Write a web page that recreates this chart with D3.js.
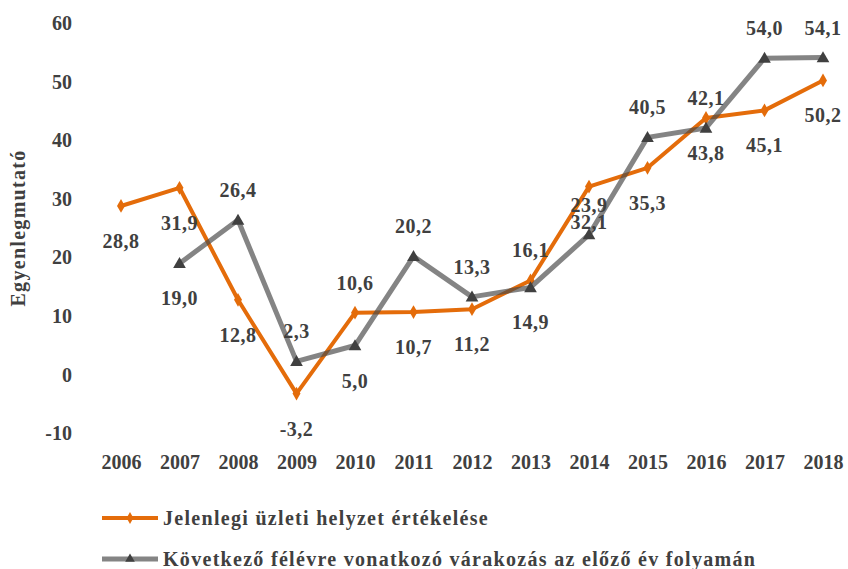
<!DOCTYPE html>
<html>
<head>
<meta charset="utf-8">
<script src="https://cdn.jsdelivr.net/npm/d3@7"></script>
<style>
	body { margin: 0; background: #fff; }
	text { font-family: "Liberation Serif", "DejaVu Serif", serif; font-weight: bold; fill: #404040; }
</style>
</head>
<body>
<svg id="vis" width="848" height="569"></svg>
<script>
	// Years on the x axis
	const years = ["2006", "2007", "2008", "2009", "2010", "2011", "2012", "2013", "2014", "2015", "2016", "2017", "2018"];

	// Current business situation (orange)
	const jelenlegi = [28.8, 31.9, 12.8, -3.2, 10.6, 10.7, 11.2, 16.1, 32.1, 35.3, 43.8, 45.1, 50.2];
	// Expectation for the next half year (grey), no value for 2006
	const kovetkezo = [null, 19.0, 26.4, 2.3, 5.0, 20.2, 13.3, 14.9, 23.9, 40.5, 42.1, 54.0, 54.1];

	// where each data label sits relative to its point
	const jelenlegiLabelPos = ["below", "below", "below", "below", "above", "below", "below", "above", "below", "below", "below", "below", "below"];
	const kovetkezoLabelPos = [null, "below", "above", "above", "below", "above", "above", "below", "above", "above", "above", "above", "above"];

	const yTicks = [-10, 0, 10, 20, 30, 40, 50, 60];

	const legendNames = ["Jelenlegi üzleti helyzet értékelése", "Következő félévre vonatkozó várakozás az előző év folyamán"];

	const orange = "#E46C0A";
	const grey = "#4a4a4a";

	const svg = d3.select("svg#vis");

	const x = d3.scalePoint()
		.domain(years)
		.range([121, 823]);

	const y = d3.scaleLinear()
		.domain([-10, 60])
		.range([433.5, 23]);

	// hungarian style numbers: decimal comma, plain hyphen for minus
	const fmt = d3.formatLocale({decimal: ",", thousands: " ", grouping: [3], currency: ["", ""], minus: "-"});
	const fmtLabel = fmt.format(".1f");
	const fmtTick = fmt.format("d");

	// y axis (labels only, no line)
	const yAxis = svg.append("g")
		.attr("transform", translate(72, 0))
		.call(d3.axisLeft(y).tickValues(yTicks).tickSize(0).tickPadding(0).tickFormat(fmtTick));
	yAxis.select(".domain").remove();
	yAxis.selectAll("text")
		.attr("font-family", null)
		.style("font-size", "20px");

	// x axis (labels only)
	const xAxis = svg.append("g")
		.attr("transform", translate(0, 455))
		.call(d3.axisBottom(x).tickSize(0).tickPadding(0));
	xAxis.select(".domain").remove();
	xAxis.selectAll("text")
		.attr("font-family", null)
		.style("font-size", "20px");

	svg.append("text")
		.attr("transform", "translate(25,228) rotate(-90)")
		.attr("text-anchor", "middle")
		.style("font-size", "20px")
		.style("letter-spacing", "1.3px")
		.text("Egyenlegmutató");

	const line = d3.line()
		.x(d => x(d.year))
		.y(d => y(d.v));

	const orangeData = years.map((yr, i) => ({year: yr, v: jelenlegi[i], pos: jelenlegiLabelPos[i]}));
	const greyData = years.map((yr, i) => ({year: yr, v: kovetkezo[i], pos: kovetkezoLabelPos[i]}))
		.filter(d => d.v !== null);

	// orange series
	svg.append("path")
		.datum(orangeData)
		.attr("fill", "none")
		.attr("stroke", orange)
		.attr("stroke-width", 4)
		.attr("stroke-linejoin", "round")
		.attr("d", line);

	svg.append("g").selectAll("path")
		.data(orangeData)
		.join("path")
		.attr("transform", d => translate(x(d.year), y(d.v)))
		.attr("d", d3.symbol(d3.symbolDiamond, 55))
		.attr("fill", orange);

	// grey series, slightly transparent like the original
	svg.append("path")
		.datum(greyData)
		.attr("fill", "none")
		.attr("stroke", grey)
		.attr("stroke-opacity", 0.68)
		.attr("stroke-width", 5)
		.attr("stroke-linejoin", "round")
		.attr("d", line);

	svg.append("g").selectAll("path")
		.data(greyData)
		.join("path")
		.attr("transform", d => translate(x(d.year), y(d.v) + 1))
		.attr("d", d3.symbol(d3.symbolTriangle, 70))
		.attr("fill", "#404040");

	// data labels
	const labelY = d => y(d.v) + (d.pos === "below" ? 35 : -30);

	svg.append("g").selectAll("text")
		.data(orangeData.concat(greyData))
		.join("text")
		.attr("x", d => x(d.year))
		.attr("y", labelY)
		.attr("dy", "0.35em")
		.attr("text-anchor", "middle")
		.style("font-size", "20px")
		.style("letter-spacing", "0.5px")
		.text(d => fmtLabel(d.v));

	// legend
	const legend = svg.append("g");
	const legendItems = legend.selectAll("g")
		.data(legendNames)
		.join("g")
		.attr("transform", (d, i) => translate(102, 518 + i * 41));

	legendItems.append("line")
		.attr("x1", 0)
		.attr("x2", 56)
		.attr("stroke", (d, i) => i === 0 ? orange : grey)
		.attr("stroke-opacity", (d, i) => i === 0 ? 1 : 0.68)
		.attr("stroke-width", (d, i) => i === 0 ? 4 : 5);

	legendItems.append("path")
		.attr("transform", translate(28, 0))
		.attr("d", (d, i) => d3.symbol(i === 0 ? d3.symbolDiamond : d3.symbolTriangle, 40)())
		.attr("fill", (d, i) => i === 0 ? orange : "#404040");

	legendItems.append("text")
		.attr("x", 61)
		.attr("dy", "0.35em")
		.style("font-size", "20px")
		.style("letter-spacing", "1.3px")
		.text(d => d);

	function translate(x, y) {
		return "translate(" + x + "," + y + ")";
	}
</script>
</body>
</html>
